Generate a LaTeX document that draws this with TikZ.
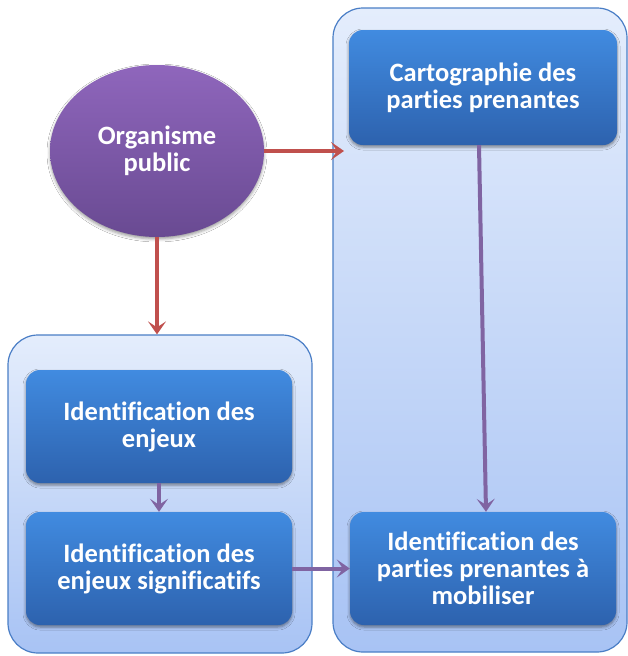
\documentclass[tikz,border=0pt]{standalone}
\usepackage{fontspec}
\setmainfont{Carlito}[Ligatures=NoCommon]
\usetikzlibrary{shapes.geometric,arrows.meta,shadows.blur}
\definecolor{panelTop}{HTML}{E4EDFC}
\definecolor{panelBot}{HTML}{A8C3F4}
\definecolor{panelLine}{HTML}{4A7EC6}
\definecolor{boxTop}{HTML}{418BE0}
\definecolor{boxBot}{HTML}{2D62AE}
\definecolor{orgTop}{HTML}{8F66BC}
\definecolor{orgBot}{HTML}{694A92}
\definecolor{redArrow}{HTML}{C0504D}
\definecolor{purpleArrow}{HTML}{8064A2}
\tikzset{
  labelfont/.style={font=\bfseries\fontsize{26.5}{27}\selectfont},
  panel/.style={draw=panelLine, line width=1.2pt, rounded corners=30pt,
    top color=panelTop, bottom color=panelBot},
  stepbox/.style={labelfont, rounded corners=14pt, top color=boxTop, bottom color=boxBot,
    text=white, align=center,
    inner sep=0pt, minimum width=266pt, minimum height=113pt,
    blur shadow={shadow xshift=0pt, shadow yshift=-2pt, shadow blur radius=3pt, shadow opacity=45}},
  orgnode/.style={labelfont, ellipse, top color=orgTop, bottom color=orgBot, text=white,
    align=center, inner sep=0pt,
    minimum width=214pt, minimum height=172pt,
    blur shadow={shadow xshift=0pt, shadow yshift=-2pt, shadow blur radius=3pt, shadow opacity=40}},
  redlink/.style={draw=redArrow, line width=4pt,
    -{Stealth[length=13pt, width=18pt, inset=6pt]}},
  purplelink/.style={draw=purpleArrow, line width=4pt,
    -{Stealth[length=13pt, width=18pt, inset=6pt]}}
}
\begin{document}
\begin{tikzpicture}[x=1pt, y=-1pt]
\useasboundingbox[fill=white] (0,0) rectangle (628,656);

% background panels
\node[panel, minimum width=294pt, minimum height=644pt] (rpanel) at (480,330) {};
\node[panel, minimum width=304pt, minimum height=318pt] (lpanel) at (160,494) {};

% process steps
\node[orgnode] (org) at (157,151) {Organisme\\public};
\node[stepbox, minimum width=268pt, minimum height=115pt] (carto) at (483,87.5)
  {Cartographie des\\parties prenantes};
\node[stepbox] (enjeux) at (159,426.5) {Identification des\\enjeux};
\node[stepbox] (signif) at (159,568.5) {Identification des\\enjeux significatifs};
\node[stepbox] (mob) at (483,568.5) {Identification des\\parties prenantes à\\mobiliser};

% connectors
\coordinate (rin) at (344,151);
\draw[redlink] (org.east) -- (rin);
\draw[redlink] (org.south) -- (org.south |- lpanel.north);
\draw[purplelink] (enjeux.south) -- (signif.north);
\draw[purplelink] (signif.east) -- (mob.west);
\draw[purplelink] ([xshift=-4pt]carto.south) -- ([xshift=3pt]mob.north);
\end{tikzpicture}
\end{document}
